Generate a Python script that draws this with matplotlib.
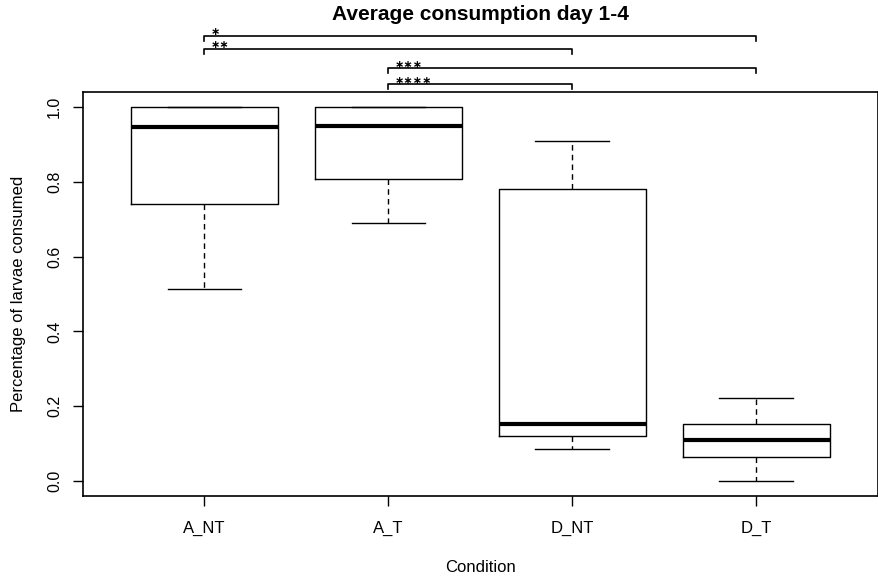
import matplotlib.pyplot as plt

plt.rcParams['font.family'] = ['Liberation Sans', 'DejaVu Sans']

conditions = ["A_NT", "A_T", "D_NT", "D_T"]
whislo = [0.513, 0.690, 0.086, 0.000]
q1 = [0.741, 0.807, 0.120, 0.064]
med = [0.947, 0.949, 0.152, 0.110]
q3 = [1.000, 1.000, 0.781, 0.152]
whishi = [1.000, 1.000, 0.909, 0.222]

# significance brackets: (left group, right group, height, label)
sig_pairs = [(1, 4, 1.190, "∗"), (1, 3, 1.155, "∗∗"), (2, 4, 1.104, "∗∗∗"), (2, 3, 1.061, "∗∗∗∗")]

stats = []
for i, c in enumerate(conditions):
    stats.append(dict(label=c, whislo=whislo[i], q1=q1[i], med=med[i], q3=q3[i], whishi=whishi[i], fliers=[]))

fig = plt.figure(figsize=(8.79, 5.8), dpi=100)
ax = fig.add_axes([0.0944, 0.145, 0.904, 0.696])

ax.bxp(stats, positions=[1, 2, 3, 4], widths=0.8, showfliers=False,
       boxprops=dict(color="black", linewidth=1),
       medianprops=dict(color="black", linewidth=3, solid_capstyle="butt"),
       whiskerprops=dict(color="black", linewidth=1, linestyle=(0, (4, 3))),
       capprops=dict(color="black", linewidth=1), capwidths=0.4)

ax.set_xlim(0.34, 4.66)
ax.set_ylim(-0.04, 1.04)
ax.set_yticks([0.0, 0.2, 0.4, 0.6, 0.8, 1.0])
ax.set_yticklabels(["0.0", "0.2", "0.4", "0.6", "0.8", "1.0"], rotation=90, va="center")
ax.set_xticks([1, 2, 3, 4])
ax.set_xticklabels(conditions)
ax.tick_params(axis="both", length=7, width=1, labelsize=11.5, pad=8)
ax.tick_params(axis="x", labelsize=12, pad=11)
for s in ax.spines.values():
    s.set_linewidth(1.2)

ax.set_xlabel("Condition", fontsize=12, labelpad=17)
ax.set_ylabel("Percentage of larvae consumed", fontsize=12, labelpad=15)
ax.set_title("Average consumption day 1-4", fontsize=15, fontweight="bold", pad=52)

tick = 0.013
for a, b, h, lab in sig_pairs:
    ax.plot([a, a, b, b], [h - tick, h, h, h - tick], color="black", lw=1.2, clip_on=False)
    ax.text(a + 0.035, h + 0.002, lab, ha="left", va="baseline", fontsize=8,
            fontweight="bold", family=["DejaVu Sans"])

fig.savefig("out.png", dpi=100)
